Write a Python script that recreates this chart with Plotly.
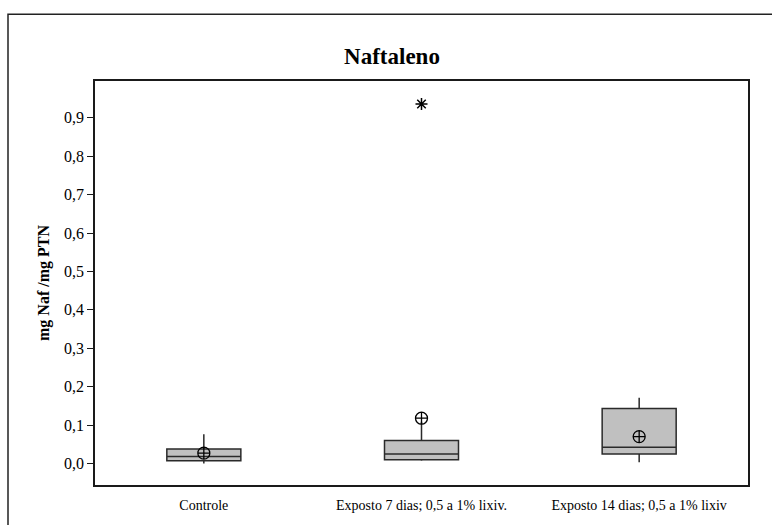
import plotly.graph_objects as go

# Group labels
categories = [
    "Controle",
    "Exposto 7 dias; 0,5 a 1% lixiv.",
    "Exposto 14 dias; 0,5 a 1% lixiv",
]

# Box summary statistics (mg Naf / mg PTN)
q1 = [0.007, 0.010, 0.025]
medians = [0.018, 0.025, 0.042]
q3 = [0.038, 0.060, 0.143]
lower_whisker = [0.000, 0.007, 0.003]
upper_whisker = [0.076, 0.109, 0.171]
means = [0.027, 0.118, 0.070]

# Outliers
outlier_groups = ["Exposto 7 dias; 0,5 a 1% lixiv."]
outlier_values = [0.936]

y_ticks = [0.0, 0.1, 0.2, 0.3, 0.4, 0.5, 0.6, 0.7, 0.8, 0.9]

serif = "Liberation Serif, Times New Roman, serif"

fig = go.Figure()

fig.add_trace(go.Box(
    x=categories,
    q1=q1,
    median=medians,
    q3=q3,
    lowerfence=lower_whisker,
    upperfence=upper_whisker,
    boxpoints=False,
    whiskerwidth=0,
    width=0.34,
    fillcolor="#C0C0C0",
    line=dict(color="#2a2a2a", width=1.5),
    showlegend=False,
    hoverinfo="skip",
))

fig.add_trace(go.Scatter(
    x=categories,
    y=means,
    mode="markers",
    marker=dict(symbol="circle-cross-open", size=12,
                color="black", line=dict(color="black", width=1.3)),
    showlegend=False,
    hoverinfo="skip",
))

fig.add_trace(go.Scatter(
    x=outlier_groups,
    y=outlier_values,
    mode="markers",
    marker=dict(symbol="asterisk-open", size=10,
                color="black", line=dict(color="black", width=1.5)),
    showlegend=False,
    hoverinfo="skip",
))

# Outer frame around the whole graph
fig.add_shape(
    type="rect", xref="paper", yref="paper",
    x0=(8 - 95) / 653, x1=(790 - 95) / 653,
    y0=-(560 - 487) / 406, y1=1 + (81 - 14) / 406,
    line=dict(color="#222222", width=1.5),
    fillcolor="rgba(0,0,0,0)",
    layer="below",
)

fig.update_layout(
    width=772,
    height=525,
    margin=dict(l=95, r=24, t=81, b=38),
    paper_bgcolor="white",
    plot_bgcolor="white",
    separators=", ",
    font=dict(family=serif, color="black"),
    title=dict(
        text="<b>Naftaleno</b>",
        x=392 / 772, xanchor="center",
        y=1 - 56 / 525, yanchor="middle",
        font=dict(family=serif, size=23, color="black"),
    ),
    xaxis=dict(
        type="category",
        range=[-0.5, 2.5],
        showline=True, mirror=True,
        linecolor="#1a1a1a", linewidth=1.5,
        ticks="", showgrid=False, zeroline=False,
        ticklabelstandoff=6,
        tickfont=dict(family=serif, size=14, color="black"),
    ),
    yaxis=dict(
        range=[-0.056, 0.996],
        tickvals=y_ticks,
        tickformat=".1f",
        showline=True, mirror=True,
        linecolor="#1a1a1a", linewidth=1.5,
        ticks="outside", ticklen=6, tickwidth=1.2, tickcolor="#1a1a1a",
        showgrid=False, zeroline=False,
        tickfont=dict(family=serif, size=16, color="black"),
        title=dict(
            text="<b>mg Naf /mg PTN</b>",
            font=dict(family=serif, size=16, color="black"),
            standoff=10,
        ),
    ),
)

fig.write_html("out.html")
